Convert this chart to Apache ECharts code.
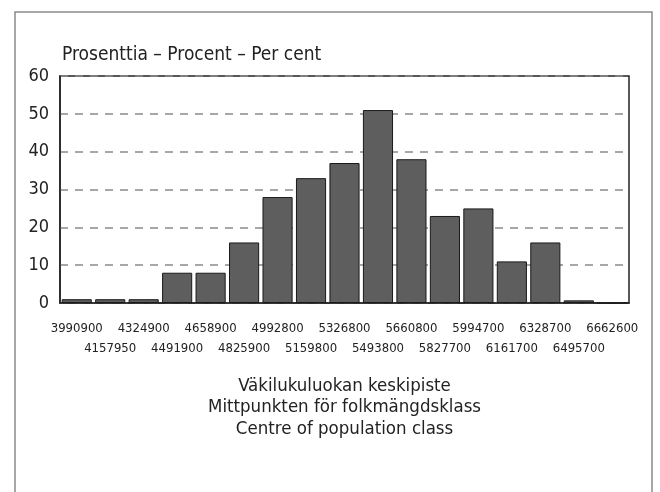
<!DOCTYPE html>
<html>
<head>
<meta charset="utf-8">
<script src="https://cdn.jsdelivr.net/npm/echarts@6/dist/echarts.min.js"></script>
<style>
  html, body { margin: 0; padding: 0; background: #fff; }
  #chart { width: 660px; height: 492px; }
</style>
</head>
<body>
<div id="chart"></div>
<script>
// class centres (x axis) and share of municipalities per class, %
const classCentres = ['3990900', '4157950', '4324900', '4491900', '4658900', '4825900',
  '4992800', '5159800', '5326800', '5493800', '5660800', '5827700', '5994700',
  '6161700', '6328700', '6495700', '6662600']
const percents = [1, 1, 1, 8, 8, 16, 28, 33, 37, 51, 38, 23, 25, 11, 16, 0.7, 0]
const yTicks = [0, 10, 20, 30, 40, 50, 60]

const fontFamily = "'DejaVu Sans Condensed', 'Liberation Sans Narrow', 'Liberation Sans', sans-serif"

const chart = echarts.init(document.getElementById('chart'), null, { renderer: 'canvas' })

chart.setOption({
  backgroundColor: '#fff',
  animation: false,
  title: {
    text: 'Prosenttia – Procent – Per cent',
    left: 57,
    top: 41,
    textStyle: { fontFamily, fontSize: 19, fontWeight: 'normal', color: '#222' }
  },
  graphic: [{
    type: 'rect',
    shape: { x: 15, y: 12, width: 637, height: 500 },
    style: { fill: 'none', stroke: '#8a8a8a', lineWidth: 1.5 },
    silent: true
  }],
  grid: {
    left: 60,
    right: 31,
    top: 76,
    bottom: 189,
    show: true,
    borderColor: '#222',
    borderWidth: 1.5
  },
  xAxis: {
    type: 'category',
    data: classCentres,
    axisLine: { lineStyle: { color: '#222', width: 1.5 } },
    axisTick: { alignWithLabel: true, length: 9, lineStyle: { color: '#666' } },
    axisLabel: {
      interval: 0,
      margin: 16,
      fontFamily,
      fontSize: 13,
      lineHeight: 20,
      color: '#222',
      formatter: (value, idx) => (idx % 2 === 1 ? '\n' + value : value)
    },
    name: 'Väkilukuluokan keskipiste\nMittpunkten för folkmängdsklass\nCentre of population class',
    nameLocation: 'middle',
    nameGap: 72,
    nameTextStyle: {
      fontFamily,
      fontSize: 18.5,
      lineHeight: 21.5,
      color: '#222',
      verticalAlign: 'top'
    }
  },
  yAxis: {
    type: 'value',
    min: yTicks[0],
    max: yTicks[yTicks.length - 1],
    interval: 10,
    axisLine: { show: true, lineStyle: { color: '#222', width: 1.5 } },
    axisTick: { show: false },
    axisLabel: { margin: 11, fontFamily, fontSize: 18, color: '#222' },
    splitLine: { lineStyle: { color: '#8a8a8a', width: 1.5, type: [8, 7] } }
  },
  series: [{
    type: 'bar',
    data: percents,
    barCategoryGap: '10%',
    itemStyle: { color: '#5e5e5e', borderColor: '#1a1a1a', borderWidth: 1 }
  }]
})
</script>
</body>
</html>
